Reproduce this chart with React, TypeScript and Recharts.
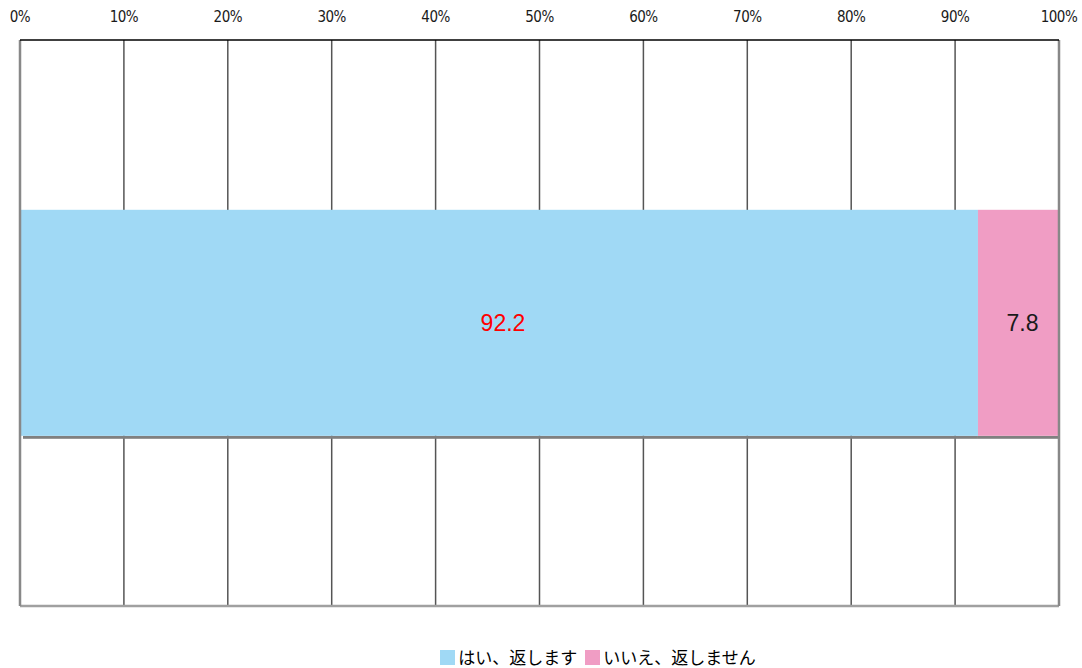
import React from "react";
import { BarChart, Bar, XAxis, YAxis, CartesianGrid, ReferenceLine, LabelList } from "recharts";

const categories = [""];
const yesValues = [92.2];
const noValues = [7.8];
const seriesNames = ["はい、返します", "いいえ、返しません"];
const seriesColors = ["#a0d9f5", "#f09dc4"];
const labelColors = ["#ff0000", "#1a1a1a"];
const ticks = [0, 10, 20, 30, 40, 50, 60, 70, 80, 90, 100];

const data = categories.map((c, i) => ({ name: c, yes: yesValues[i], no: noValues[i] }));

// bar with a grey drop shadow under its bottom edge
function shadowShape(indent: number) {
  return (props: any) => {
    const { x, y, width, height, fill } = props;
    return (
      <g>
        <rect x={x + indent} y={y + height} width={Math.max(width - indent, 0)} height={3} fill="#808080" />
        <rect x={x} y={y} width={width} height={height} fill={fill} />
      </g>
    );
  };
}

function makeLabel(color: string) {
  return (props: any) => {
    const { x, y, width, height, value } = props;
    return (
      <text
        x={x + width / 2 + 4}
        y={y + height / 2}
        textAnchor="middle"
        dominantBaseline="central"
        fill={color}
        fontSize={23}
        fontFamily="Liberation Sans, Arial, sans-serif"
      >
        {value}
      </text>
    );
  };
}

function TopTick(props: any) {
  const { x, payload } = props;
  return (
    <text
      x={x}
      y={17}
      textAnchor="middle"
      dominantBaseline="central"
      fill="#1a1a1a"
      fontSize={15}
      fontFamily="DejaVu Sans Condensed, Liberation Sans, Arial, sans-serif"
      letterSpacing={-0.5}
    >
      {`${payload.value}%`}
    </text>
  );
}

export default function App() {
  return (
    <div style={{ position: "absolute", left: 0, top: 0, width: 1082, height: 668, background: "#fff" }}>
      <BarChart
        width={1082}
        height={668}
        data={data}
        layout="vertical"
        barCategoryGap="30%"
        margin={{ top: 0, right: 23, bottom: 62, left: 20 }}
      >
        <CartesianGrid horizontal={false} stroke="#555" strokeWidth={1.5} />
        <CartesianGrid
          vertical={false}
          horizontalCoordinatesGenerator={({ offset }: any) => [offset.top + offset.height]}
          stroke="#a0a0a0"
          strokeWidth={2.5}
        />
        <XAxis
          type="number"
          orientation="top"
          domain={[0, 100]}
          ticks={ticks}
          tickLine={false}
          axisLine={{ stroke: "#000", strokeWidth: 1.5 }}
          height={40}
          interval={0}
          tick={<TopTick />}
        />
        <YAxis type="category" dataKey="name" hide />
        <ReferenceLine x={0} stroke="#888" strokeWidth={2.5} />
        <ReferenceLine x={100} stroke="#888" strokeWidth={2.5} />
        <Bar dataKey="yes" stackId="s" fill={seriesColors[0]} shape={shadowShape(3)} isAnimationActive={false}>
          <LabelList dataKey="yes" content={makeLabel(labelColors[0])} />
        </Bar>
        <Bar dataKey="no" stackId="s" fill={seriesColors[1]} shape={shadowShape(0)} isAnimationActive={false}>
          <LabelList dataKey="no" content={makeLabel(labelColors[1])} />
        </Bar>
      </BarChart>
      <div
        style={{
          position: "absolute",
          top: 646,
          left: 0,
          width: 1196,
          display: "flex",
          justifyContent: "center",
          gap: 8,
          fontFamily: "Noto Sans CJK JP, sans-serif",
          fontSize: 17,
          color: "#000",
          lineHeight: "22px",
        }}
      >
        {seriesNames.map((n, i) => (
          <span key={n} style={{ display: "flex", alignItems: "center" }}>
            <span style={{ display: "inline-block", width: 15, height: 15, background: seriesColors[i], marginRight: 3 }} />
            {n}
          </span>
        ))}
      </div>
    </div>
  );
}
